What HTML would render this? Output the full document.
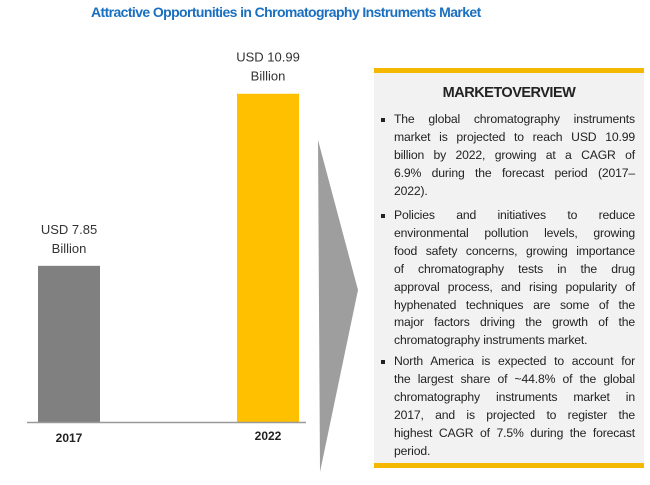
<!DOCTYPE html>
<html><head><meta charset="utf-8"><style>
body{margin:0;width:650px;height:485px;background:#fff;position:relative;overflow:hidden;font-family:"Liberation Sans",sans-serif}
.t{position:absolute;white-space:nowrap}
.ln{position:absolute;left:394px;width:241px;font-size:12.2px;color:#222;text-align:justify;text-align-last:justify;white-space:nowrap;letter-spacing:-0.15px}
.ln.l{text-align-last:left}
.b{position:absolute;left:381px;width:4px;height:4px;background:#222}
</style></head><body>
<div class="t" style="left:91px;top:4px;width:318px;text-align:center;font-size:14px;font-weight:bold;color:#1a6fc0;letter-spacing:-0.6px">Attractive Opportunities in Chromatography Instruments Market</div>
<svg id="chart" width="650" height="485" style="position:absolute;left:0;top:0">
<polygon points="318,140 358,290 320,472" fill="#9e9e9e"/>
</svg>
<div style="position:absolute;left:374px;top:68px;width:270px;height:400px;background:#f2f2f2;border-top:5px solid #f5b800;border-bottom:5px solid #f5b800;box-sizing:border-box"></div>
<div class="t" style="left:374px;top:85px;width:270px;text-align:center;font-size:14.5px;font-weight:bold;color:#222;letter-spacing:-0.5px">MARKETOVERVIEW</div>
<div id="lines"></div>
<script>
const categories=["2017","2022"];
const values=[7.85,10.99];
const valueLabels=["USD 7.85","USD 10.99"];
const colors=["#808080","#ffc000"];
const svg=document.getElementById('chart');
const NS='http://www.w3.org/2000/svg';
const base=422, y0=5, pxPer=54.8;
function yScale(v){return base-(v-y0)*pxPer;}
const xs=[38,237], bw=62;
categories.forEach((c,i)=>{
 const r=document.createElementNS(NS,'rect');
 r.setAttribute('x',xs[i]);r.setAttribute('y',yScale(values[i]));r.setAttribute('width',bw);r.setAttribute('height',base-yScale(values[i]));r.setAttribute('fill',colors[i]);
 
 
 svg.appendChild(r);
 const cx=xs[i]+bw/2;
 [[valueLabels[i],yScale(values[i])-32],["Billion",yScale(values[i])-13]].forEach((p,k)=>{
  const t=document.createElementNS(NS,'text');
  t.setAttribute('x',cx);t.setAttribute('y',p[1]);t.setAttribute('text-anchor','middle');t.setAttribute('font-size','13');t.setAttribute('fill','#333');t.setAttribute('font-family','Liberation Sans');
  t.textContent=p[0];
  
  
  svg.appendChild(t);
 });
 const l=document.createElementNS(NS,'text');
 l.setAttribute('x',cx);l.setAttribute('y',i?440:442);l.setAttribute('text-anchor','middle');l.setAttribute('font-size','12');l.setAttribute('font-weight','bold');l.setAttribute('fill','#222');l.setAttribute('font-family','Liberation Sans');
 l.textContent=c;
 
 
 svg.appendChild(l);
});
const ax=document.createElementNS(NS,'line');
ax.setAttribute('x1',27);ax.setAttribute('x2',306);ax.setAttribute('y1',base+0.5);ax.setAttribute('y2',base+0.5);ax.setAttribute('stroke','#999');ax.setAttribute('stroke-width','1.5');


svg.appendChild(ax);

const bullets=[
 [120,["The global chromatography instruments","market is projected to reach USD 10.99","billion by 2022, growing at a CAGR of","6.9% during the forecast period (2017–","2022)."]],
 [216,["Policies and initiatives to reduce","environmental pollution levels, growing","food safety concerns, growing importance","of chromatography tests in the drug","approval process, and rising popularity of","hyphenated techniques are some of the","major factors driving the growth of the","chromatography instruments market."]],
 [362,["North America is expected to account for","the largest share of ~44.8% of the global","chromatography instruments market in","2017, and is projected to register the","highest CAGR of 7.5% during the forecast","period."]]
];
const host=document.getElementById('lines');
bullets.forEach((b,bi)=>{
 const d=document.createElement('div');d.className='b';d.style.top=(b[0]-2)+'px';
 
 
 host.appendChild(d);
 b[1].forEach((s,k)=>{
  const e=document.createElement('div');
  e.className='ln'+(k==b[1].length-1?' l':'');
  e.style.top=(b[0]-8+k*17.9)+'px';
  e.textContent=s;
  
  
  host.appendChild(e);
 });
});
</script>
</body></html>
